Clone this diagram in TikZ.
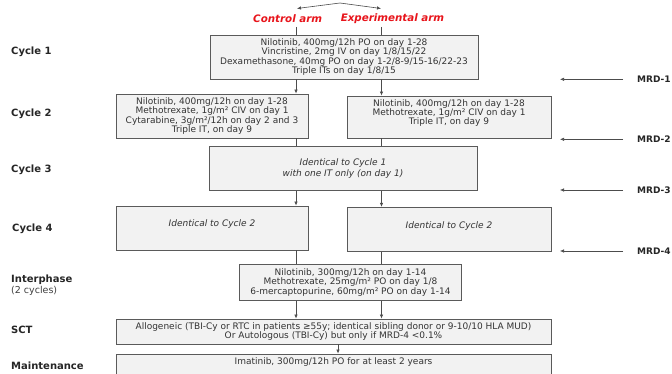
\documentclass[tikz,border=0pt]{standalone}
\usepackage{fontspec}
\setmainfont{DejaVu Sans}
\usetikzlibrary{arrows.meta}
\definecolor{armred}{HTML}{E8141B}
\definecolor{boxfill}{HTML}{F2F2F2}
\definecolor{boxline}{HTML}{5A5A5A}
\definecolor{txt}{HTML}{333333}
\begin{document}
\begin{tikzpicture}[x=1pt,y=-1pt,
  box/.style={draw=boxline, fill=boxfill, line width=0.9pt, inner sep=0pt, align=center, text=txt, font=\fontsize{9}{9.4}\selectfont},
  btext/.style={inner sep=0pt, align=center, text=txt, font=\fontsize{9}{9.4}\selectfont},
  lbl/.style={anchor=west, font=\bfseries\fontsize{10}{11}\selectfont, text=black!85, inner sep=0pt},
  sublbl/.style={anchor=west, font=\fontsize{9.5}{11}\selectfont, text=black!75, inner sep=0pt},
  mrd/.style={anchor=west, font=\bfseries\fontsize{9}{10}\selectfont, text=black!85, inner sep=0pt},
  arm/.style={font=\bfseries\itshape\fontsize{10.3}{12}\selectfont, text=armred, inner sep=0pt},
  link/.style={draw=black!70, line width=0.6pt},
  arr/.style={link, -{Latex[length=4pt,width=3.5pt]}},
]
\useasboundingbox (0,0) rectangle (672,374);
\fill[white] (0,0) rectangle (672,374);
\clip (0,0) rectangle (672,374);

% coordinates for vertical connectors
\coordinate (xl) at (296,27);
\coordinate (xr) at (381.5,27);
\coordinate (mx) at (338,0);

% top split arrows
\coordinate (apex) at (340,3);
\coordinate (lt) at (297,8.5);
\coordinate (rt) at (381,8.5);
\draw[arr] (apex) -- (lt);
\draw[arr] (apex) -- (rt);

% arms
\node[arm] (ctl) at (287.7,18.5) {Control arm};
\node[arm] (exp) at (392.5,18.5) {Experimental arm};

% boxes
\node[box, minimum width=268pt, minimum height=44pt] (c1) at (344,57)
  {Nilotinib, 400mg/12h PO on day 1-28\\Vincristine, 2mg IV on day 1/8/15/22\\Dexamethasone, 40mg PO on day 1-2/8-9/15-16/22-23\\Triple ITs on day 1/8/15};

\node[box, minimum width=192pt, minimum height=44pt] (c2l) at (212,116)
  {Nilotinib, 400mg/12h on day 1-28\\Methotrexate, 1g/m² CIV on day 1\\Cytarabine, 3g/m²/12h on day 2 and 3\\Triple IT, on day 9};

\node[box, minimum width=204pt, minimum height=42pt] (c2r) at (449,117) {};
\node[btext, anchor=north] (c2rt) at (449,99)
  {Nilotinib, 400mg/12h on day 1-28\\Methotrexate, 1g/m² CIV on day 1\\Triple IT, on day 9};

\node[box, minimum width=268pt, minimum height=44pt, font=\itshape\fontsize{9}{10.5}\selectfont] (c3) at (343,168.7)
  {Identical to Cycle 1\\with one IT only (on day 1)};

\node[box, minimum width=192pt, minimum height=44pt] (c4l) at (212,228) {};
\node[btext, font=\itshape\fontsize{9}{10.5}\selectfont] (c4lt) at (212,224) {Identical to Cycle 2};
\node[box, minimum width=204pt, minimum height=44.4pt] (c4r) at (449,229.5) {};
\node[btext, font=\itshape\fontsize{9}{10.5}\selectfont] (c4rt) at (449,226) {Identical to Cycle 2};

\node[box, minimum width=222pt, minimum height=35.7pt] (ip) at (350.5,282.2)
  {Nilotinib, 300mg/12h on day 1-14\\Methotrexate, 25mg/m² PO on day 1/8\\6-mercaptopurine, 60mg/m² PO on day 1-14};

\node[box, minimum width=435pt, minimum height=25pt] (sct) at (333.5,331.5)
  {Allogeneic (TBI-Cy or RTC in patients ≥55y; identical sibling donor or 9-10/10 HLA MUD)\\Or Autologous (TBI-Cy) but only if MRD-4 <0.1\%};

\node[box, minimum width=435pt, minimum height=36pt] (mt) at (333.5,372) {};
\node[btext] (mtt) at (333.5,362) {Imatinib, 300mg/12h PO for at least 2 years};

% connectors
\draw[link] (xl) -- (xl |- c1.north);
\draw[link] (xr) -- (xr |- c1.north);
\draw[arr] (c1.south -| xl) -- (c2l.north -| xl);
\draw[arr] (c1.south -| xr) -- (c2r.north -| xr);
\draw[link] (c2l.south -| xl) -- (c3.north -| xl);
\draw[link] (c2r.south -| xr) -- (c3.north -| xr);
\draw[arr] (c3.south -| xl) -- (c4l.north -| xl);
\draw[arr] (c3.south -| xr) -- (c4r.north -| xr);
\draw[link] (c4l.south -| xl) -- (ip.north -| xl);
\draw[link] (c4r.south -| xr) -- (ip.north -| xr);
\draw[arr] (ip.south -| xl) -- (sct.north -| xl);
\draw[arr] (ip.south -| xr) -- (sct.north -| xr);
\draw[arr] (sct.south -| mx) -- (mt.north -| mx);

% left labels
\node[lbl] (l1) at (11,52) {Cycle 1};
\node[lbl] (l2) at (11,114) {Cycle 2};
\node[lbl] (l3) at (11,170) {Cycle 3};
\node[lbl] (l4) at (12,229) {Cycle 4};
\node[lbl] (l5) at (11,280) {Interphase};
\node[sublbl] (l5b) at (11,290.5) {(2 cycles)};
\node[lbl] (l6) at (11,330) {SCT};
\node[lbl] (l7) at (11,366) {Maintenance};

% MRD markers
\node[mrd] (mrd1) at (637,79.3) {MRD-1};
\node[mrd] (mrd2) at (637,139.3) {MRD-2};
\node[mrd] (mrd3) at (637,190) {MRD-3};
\node[mrd] (mrd4) at (637,251) {MRD-4};
\foreach \m in {mrd1,mrd2,mrd3,mrd4}
  \draw[arr] ([xshift=-14pt]\m.west) -- ([xshift=-77pt]\m.west);
\end{tikzpicture}
\end{document}
